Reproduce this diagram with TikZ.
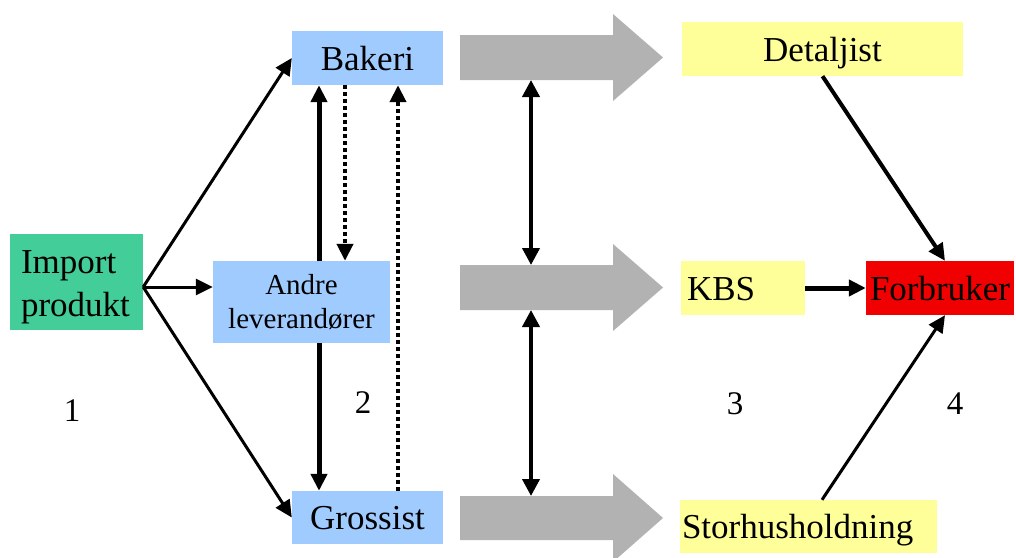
\documentclass[tikz,border=0pt]{standalone}
\usepackage{fontspec}
\setmainfont{Liberation Serif}
\usetikzlibrary{arrows.meta,calc}
\definecolor{impgreen}{HTML}{43CD98}
\definecolor{lblue}{HTML}{A0CBFF}
\definecolor{lyellow}{HTML}{FFFF99}
\definecolor{fred}{HTML}{F00000}
\definecolor{agray}{HTML}{B2B2B2}
\begin{document}
\begin{tikzpicture}[x=1pt,y=-1pt,
  plain/.style={rectangle,inner sep=0pt},
  box/.style={plain,font=\fontsize{35}{42}\selectfont,text height=24pt,text depth=0pt},
  bluebox/.style={box,fill=lblue},
  yelbox/.style={box,fill=lyellow},
  num/.style={anchor=base,inner sep=0pt,font=\fontsize{33}{40}\selectfont},
  conn/.style={-{Triangle[length=17pt,width=16pt]},line width=3pt},
  thick conn/.style={conn,line width=5pt},
  dotconn/.style={conn,line width=4pt,dash pattern=on 4pt off 3pt},
  dbl/.style={{Triangle[length=17pt,width=17pt]}-{Triangle[length=17pt,width=17pt]},line width=4pt},
  grayarrow/.style={fill=agray}
]
\useasboundingbox (0,0) rectangle (1016,557);
\fill[white] (0,0) rectangle (1016,557);

% nodes
\node[plain,fill=impgreen,minimum width=133pt,minimum height=96pt,text width=111pt,align=left,
      font=\fontsize{35}{43}\selectfont,text height=24pt,text depth=41pt] (imp) at (76.5,282) {Import\\produkt};
\node[bluebox,minimum width=151pt,minimum height=54pt] (bak) at (367.5,58) {Bakeri};
\node[plain,fill=lblue,minimum width=177pt,minimum height=82pt,align=center,
      font=\fontsize{29}{34}\selectfont] (and) at (301.5,302) {Andre\\leverandører};
\node[bluebox,minimum width=151pt,minimum height=53pt] (gro) at (367.5,517.5) {Grossist};

\node[yelbox,minimum width=281pt,minimum height=54pt] (det) at (822.5,49) {Detaljist};
\node[yelbox,minimum width=124pt,minimum height=54pt,text width=112pt,align=left] (kbs) at (743,288) {KBS};
\node[box,fill=fred,minimum width=148pt,minimum height=54pt] (for) at (940,288) {Forbruker};
\node[yelbox,minimum width=257pt,minimum height=53pt,text width=253pt,align=left] (sto) at (808.5,526.5) {Storhusholdning};

% numbers
\node[num] (n1) at (72,421) {1};
\node[num] (n2) at (363,413) {2};
\node[num] (n3) at (735,414) {3};
\node[num] (n4) at (955,414) {4};

% gray arrows
\fill[grayarrow] (460,35) -- (613,35) -- (613,14) -- (663,57.5) -- (613,101) -- (613,80) -- (460,80) -- cycle;
\fill[grayarrow] (460,265) -- (613,265) -- (613,244) -- (663,287.5) -- (613,331) -- (613,310) -- (460,310) -- cycle;
\fill[grayarrow] (460,496) -- (613,496) -- (613,474) -- (663,518) -- (613,562) -- (613,540) -- (460,540) -- cycle;
\coordinate (g1b) at (531,80);
\coordinate (g2t) at (531,265);
\coordinate (g2b) at (531,310);
\coordinate (g3t) at (531,496);

% connectors from import
\coordinate (src) at ($(imp.east)+(0,5)$);
\draw[conn] (src) -- (bak.west);
\draw[conn] (src) -- (and.west |- src);
\draw[conn] (src) -- (gro.west);

% vertical connectors
\coordinate (xa) at (319,0);
\coordinate (xb) at (345,0);
\coordinate (xc) at (398,0);
\draw[thick conn] (xa |- and.north) -- (xa |- bak.south);
\draw[thick conn] (xa |- and.south) -- (xa |- gro.north);
\draw[dotconn] (xb |- bak.south) -- (xb |- and.north);
\draw[dotconn] (xc |- gro.north) -- (xc |- bak.south);

% double arrows
\draw[dbl] (g1b) -- (g2t);
\draw[dbl] (g2b) -- (g3t);

% to Forbruker
\draw[conn,line width=4pt] (det.south) -- ($(for.north)+(5,0)$);
\draw[thick conn] (kbs.east) -- (for.west);
\draw[conn] ($(sto.north)+(13.5,0)$) -- ($(for.south)+(5,0)$);
\end{tikzpicture}
\end{document}
